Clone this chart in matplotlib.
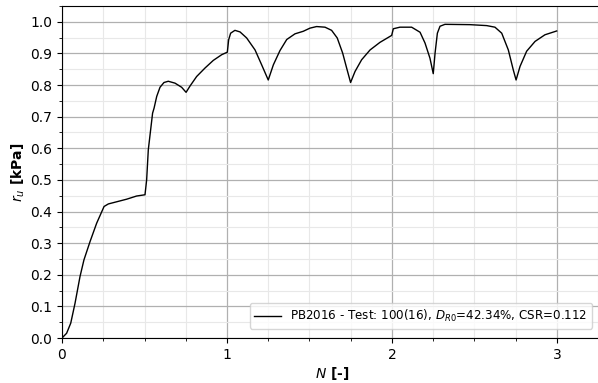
import numpy as np
import matplotlib.pyplot as plt
from matplotlib.ticker import MultipleLocator

# pore pressure ratio vs. number of cycles
N = [0.0, 0.028, 0.053, 0.079, 0.109, 0.133, 0.170, 0.210, 0.255, 0.281, 0.392, 0.452, 0.503,
     0.513, 0.523, 0.549, 0.558, 0.574, 0.594, 0.618, 0.644, 0.685, 0.725, 0.752,
     0.776, 0.816, 0.867, 0.917, 0.968, 1.002,
     1.010, 1.022, 1.048, 1.079, 1.119, 1.17, 1.21, 1.25,
     1.281, 1.321, 1.362, 1.412, 1.462, 1.503, 1.543, 1.594, 1.634, 1.668, 1.701, 1.725, 1.749,
     1.776, 1.816, 1.867, 1.927, 1.998,
     2.008, 2.048, 2.119, 2.17, 2.2, 2.23, 2.25,
     2.261, 2.275, 2.291, 2.321, 2.473, 2.574, 2.624, 2.665, 2.705, 2.735, 2.752,
     2.776, 2.816, 2.867, 2.927, 2.998]
ru = [0.0, 0.015, 0.047, 0.11, 0.194, 0.247, 0.305, 0.363, 0.416, 0.424, 0.439, 0.449, 0.453,
      0.50, 0.595, 0.711, 0.727, 0.764, 0.793, 0.808, 0.812, 0.806, 0.793, 0.777,
      0.797, 0.827, 0.854, 0.878, 0.896, 0.904,
      0.943, 0.964, 0.973, 0.968, 0.949, 0.911, 0.864, 0.816,
      0.864, 0.909, 0.944, 0.962, 0.970, 0.980, 0.985, 0.983, 0.973, 0.949, 0.901, 0.854, 0.808,
      0.843, 0.880, 0.911, 0.935, 0.957,
      0.978, 0.983, 0.983, 0.967, 0.933, 0.885, 0.836,
      0.901, 0.964, 0.986, 0.992, 0.991, 0.988, 0.983, 0.964, 0.911, 0.848, 0.816,
      0.859, 0.907, 0.938, 0.959, 0.971]

label = 'PB2016 - Test: 100(16), $D_{R0}$=42.34%, CSR=0.112'

fig = plt.figure(figsize=(5.98, 3.83), dpi=100)
ax = fig.add_axes([62/598, 45/383, 540/598, 332/383])

ax.plot(N, ru, color='black', lw=1.0, label=label)

ax.set_xlim(0, 540/165)
ax.set_ylim(0, 1.05)
ax.xaxis.set_major_locator(MultipleLocator(1))
ax.xaxis.set_minor_locator(MultipleLocator(0.25))
ax.yaxis.set_minor_locator(MultipleLocator(0.05))
ax.set_yticks(np.arange(0, 1.01, 0.1))
ax.set_yticklabels(['%.1f' % v for v in np.arange(0, 1.01, 0.1)])

ax.grid(which='major', color='#b0b0b0', lw=0.9)
ax.grid(which='minor', color='#e8e8e8', lw=0.8)
ax.set_axisbelow(True)
ax.tick_params(labelsize=10)

ax.set_xlabel('$N$ [-]', fontweight='bold', fontsize=10, labelpad=2)
ax.set_ylabel('$r_u$ [kPa]', fontweight='bold', fontsize=10, labelpad=2)

ax.legend(loc='lower right', fontsize=8.6, bbox_to_anchor=(0.993, 0.01),
          handlelength=2.2, framealpha=0.8)

fig.savefig('out.png', dpi=100)
